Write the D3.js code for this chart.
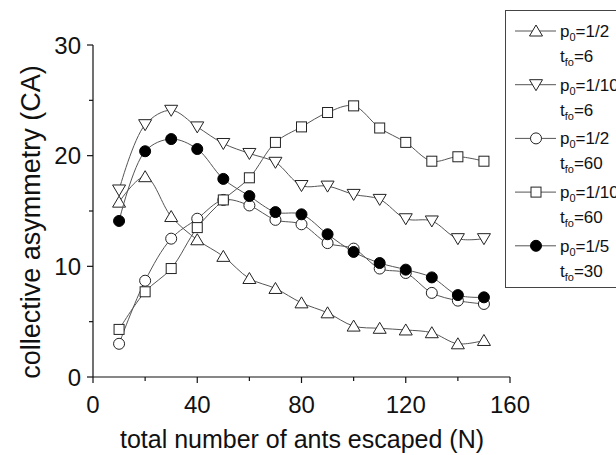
<!DOCTYPE html>
<html><head><meta charset="utf-8">
<script src="https://cdn.jsdelivr.net/npm/d3@7"></script>
<style>html,body{margin:0;padding:0;background:#fff}svg{display:block}text{font-family:"Liberation Sans",Arial,sans-serif;fill:#111}</style>
</head><body><svg id="c" width="616" height="455"></svg>
<script>
const N = [10,20,30,40,50,60,70,80,90,100,110,120,130,140,150];
const caP2T6   = [15.8,18.1,14.5,12.4,10.9,8.9,8.0,6.7,5.8,4.6,4.4,4.25,4.0,3.0,3.3];
const caP10T6  = [16.9,22.8,24.1,22.6,21.1,20.2,19.4,17.3,17.25,16.5,16.05,14.3,14.1,12.5,12.5];
const caP2T60  = [3.0,8.7,12.5,14.3,16.0,15.5,14.2,13.8,12.1,11.6,9.8,9.4,7.6,6.9,6.6];
const caP10T60 = [4.3,7.7,9.8,13.5,16.0,18.0,21.2,22.6,23.9,24.5,22.5,21.2,19.5,19.9,19.5];
const caP5T30  = [14.1,20.4,21.5,20.6,17.9,16.35,14.9,14.7,12.9,11.3,10.3,9.7,9.0,7.4,7.2];
const seriesP0  = ["1/2","1/10","1/2","1/10","1/5"];
const seriesTfo = ["6","6","60","60","30"];
const seriesSymbols = ["up","down","circle","square","dot"];
const xTicks = [0,40,80,120,160];
const yTicks = [0,10,20,30];
const xLabel = "total number of ants escaped (N)";
const yLabel = "collective asymmetry (CA)";

const series = [caP2T6, caP10T6, caP2T60, caP10T60, caP5T30];
const svg = d3.select("#c");
const x = d3.scaleLinear().domain([0,160]).range([93,510]);
const y = d3.scaleLinear().domain([0,30]).range([377,45]);

// axes
const gx = svg.append("g").attr("transform","translate(0,377)");
gx.append("line").attr("x1",x(0)).attr("x2",x(160)).attr("stroke","#111").attr("stroke-width",1.2);
d3.range(0,161,20).forEach(v=>{
  const major = xTicks.includes(v);
  gx.append("line").attr("x1",x(v)).attr("x2",x(v)).attr("y1",0).attr("y2",major?6:4).attr("stroke","#111").attr("stroke-width",1.2);
});
xTicks.forEach(v=>gx.append("text").attr("x",x(v)).attr("y",36).attr("text-anchor","middle").attr("font-size",24).text(v));
const gy = svg.append("g").attr("transform","translate(93,0)");
gy.append("line").attr("y1",y(0)).attr("y2",y(30)).attr("stroke","#111").attr("stroke-width",1.2);
d3.range(0,31,5).forEach(v=>{
  const major = yTicks.includes(v);
  gy.append("line").attr("y1",y(v)).attr("y2",y(v)).attr("x1",0).attr("x2",major?-6:-4).attr("stroke","#111").attr("stroke-width",1.2);
});
yTicks.forEach(v=>gy.append("text").attr("x",-12).attr("y",y(v)).attr("dy","0.36em").attr("text-anchor","end").attr("font-size",24).text(v));

svg.append("text").attr("x",302).attr("y",448).attr("text-anchor","middle").attr("font-size",25).text(xLabel);
svg.append("text").attr("transform","translate(40,222) rotate(-90)").attr("text-anchor","middle").attr("font-size",27).text(yLabel);

function marker(g, kind, cx, cy){
  const st = "#222";
  if(kind==="up") g.append("path").attr("d",`M${cx},${cy-6}L${cx+6.5},${cy+5}L${cx-6.5},${cy+5}Z`).attr("fill","#fff").attr("stroke",st);
  else if(kind==="down") g.append("path").attr("d",`M${cx},${cy+6}L${cx+6.5},${cy-5}L${cx-6.5},${cy-5}Z`).attr("fill","#fff").attr("stroke",st);
  else if(kind==="circle") g.append("circle").attr("cx",cx).attr("cy",cy).attr("r",5.5).attr("fill","#fff").attr("stroke",st);
  else if(kind==="square") g.append("rect").attr("x",cx-5).attr("y",cy-5).attr("width",10).attr("height",10).attr("fill","#fff").attr("stroke",st);
  else g.append("circle").attr("cx",cx).attr("cy",cy).attr("r",5.5).attr("fill","#000").attr("stroke","#000");
}

const line = d3.line().x((d,i)=>x(N[i])).y(d=>y(d)).curve(d3.curveCatmullRom.alpha(0.5));
series.forEach((s,k)=>{
  const g = svg.append("g");
  g.append("path").attr("d",line(s)).attr("fill","none").attr("stroke","#555").attr("stroke-width",1);
  s.forEach((v,i)=>marker(g, seriesSymbols[k], x(N[i]), y(v)));
});

// legend
const lg = svg.append("g");
lg.append("rect").attr("x",505.5).attr("y",10.5).attr("width",120).attr("height",277).attr("fill","#fff").attr("stroke","#444");
seriesSymbols.forEach((s,k)=>{
  const ly = 31 + k*53.7;
  lg.append("line").attr("x1",515).attr("x2",556).attr("y1",ly).attr("y2",ly).attr("stroke","#555");
  marker(lg, s, 536, ly);
  const t1 = lg.append("text").attr("x",560).attr("y",ly+6).attr("font-size",17);
  t1.append("tspan").text("p");
  t1.append("tspan").attr("font-size",11).attr("dy",4).text("0");
  t1.append("tspan").attr("dy",-4).text("="+seriesP0[k]);
  const t2 = lg.append("text").attr("x",560).attr("y",ly+31).attr("font-size",17);
  t2.append("tspan").text("t");
  t2.append("tspan").attr("font-size",11).attr("dy",4).text("fo");
  t2.append("tspan").attr("dy",-4).text("="+seriesTfo[k]);
});
</script></body></html>
